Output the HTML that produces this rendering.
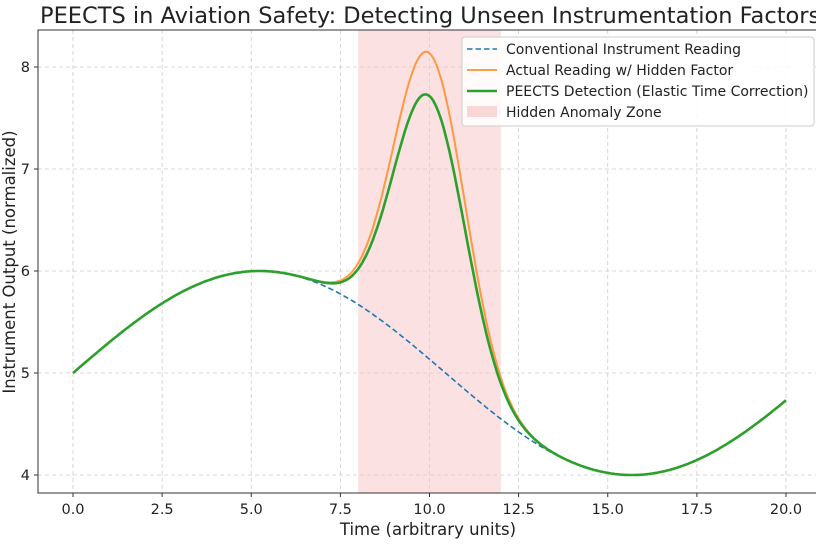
<!DOCTYPE html>
<html><head><meta charset="utf-8"><style>
body{margin:0;background:#fff;width:816px;height:549px;overflow:hidden}
svg text{font-family:"DejaVu Sans","Liberation Sans",sans-serif;fill:#222}
</style></head><body>
<svg id="s" width="816" height="549" xmlns="http://www.w3.org/2000/svg">
<text x="40" y="23" font-size="22.5">PEECTS in Aviation Safety: Detecting Unseen Instrumentation Factors</text>
<g id="grid"></g>
<rect x="358.2" y="30" width="142.6" height="463" fill="#f8c8c8" opacity="0.55"/>
<path id="dash" fill="none" stroke="#1f77b4" stroke-width="1.6" stroke-dasharray="5.5,3"/>
<path id="or" fill="none" stroke="#ff7f0e" stroke-opacity="0.75" stroke-width="2"/>
<path id="gr" fill="none" stroke="#2ca02c" stroke-width="2.6"/>
<rect x="38" y="30" width="790" height="463" fill="none" stroke="#333" stroke-width="1"/>
<g id="ticks"></g>
<text x="428" y="535" font-size="16.5" text-anchor="middle">Time (arbitrary units)</text>
<text transform="translate(15,262) rotate(-90)" font-size="16.5" text-anchor="middle">Instrument Output (normalized)</text>
<rect x="462" y="37" width="352" height="89" rx="3" fill="#fff" fill-opacity="0.85" stroke="#ccc"/>
<line x1="467" y1="49" x2="497" y2="49" stroke="#1f77b4" stroke-width="1.6" stroke-dasharray="5.5,3"/>
<line x1="467" y1="70" x2="497" y2="70" stroke="#ff7f0e" stroke-opacity="0.75" stroke-width="2"/>
<line x1="467" y1="91" x2="497" y2="91" stroke="#2ca02c" stroke-width="2.6"/>
<rect x="467" y="106" width="30" height="11" fill="#f8c8c8" opacity="0.7"/>
<g font-size="14"><text x="506" y="54">Conventional Instrument Reading</text>
<text x="506" y="75">Actual Reading w/ Hidden Factor</text>
<text x="506" y="96">PEECTS Detection (Elastic Time Correction)</text>
<text x="506" y="117">Hidden Anomaly Zone</text></g>
</svg>
<script>
var X=t=>73+t*35.65, Y=v=>475-(v-4)*102;
var g='',k='';
for(var i=0;i<=8;i++){var t=i*2.5,x=X(t);g+=`<line x1="${x}" y1="30" x2="${x}" y2="493" stroke="#ccc" stroke-dasharray="4,3" stroke-width="0.8"/>`;
k+=`<line x1="${x}" y1="493" x2="${x}" y2="497" stroke="#333"/><text x="${x}" y="514" font-size="14.5" text-anchor="middle">${t.toFixed(1)}</text>`;}
for(var v=4;v<=8;v++){var y=Y(v);g+=`<line x1="38" y1="${y}" x2="816" y2="${y}" stroke="#ccc" stroke-dasharray="4,3" stroke-width="0.8"/>`;
k+=`<line x1="34" y1="${y}" x2="38" y2="${y}" stroke="#333"/><text x="30" y="${y+5}" font-size="14.5" text-anchor="end">${v}</text>`;}
document.getElementById('grid').innerHTML=g;document.getElementById('ticks').innerHTML=k;
var b=t=>5+Math.sin(2*Math.PI*t/20.9);
var f=t=>3*Math.exp(-Math.pow(t-10.0,2)/(2*1.0*1.0));
function p(fn,a,z){var d='';for(var t=a;t<=z+1e-9;t+=0.05)d+=(d?'L':'M')+X(t).toFixed(1)+','+Y(fn(t)).toFixed(1);return d;}
document.getElementById('dash').setAttribute('d',p(b,6.5,13.6));
document.getElementById('or').setAttribute('d',p(t=>b(t)+f(t),0,20));
document.getElementById('gr').setAttribute('d',p(t=>b(t)+0.86*f(t),0,20));
</script>
</body></html>
